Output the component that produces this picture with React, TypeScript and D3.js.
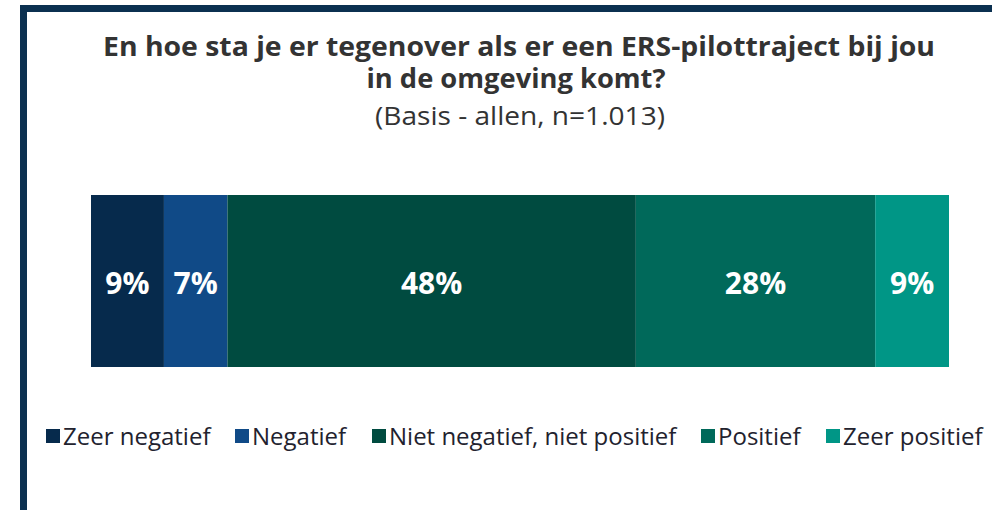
import React from "react";
import * as d3 from "d3";

const categories = ["Zeer negatief", "Negatief", "Niet negatief, niet positief", "Positief", "Zeer positief"];
const values = [8.5, 7.4, 47.6, 27.9, 8.6];
const colors = ["#062a4c", "#104a87", "#004b40", "#00695a", "#009686"];
const titleLines = ["En hoe sta je er tegenover als er een ERS-pilottraject bij jou", "in de omgeving komt?"];
const subtitle = "(Basis - allen, n=1.013)";
const legendX = [46, 235, 372, 701, 826];

export default function App() {
  const W = 992, H = 510;
  const total = d3.sum(values);
  const x = d3.scaleLinear().domain([0, total]).range([91, 949]);
  const stack = d3.cumsum(values);
  const segs = values.map((v, i) => ({ v, i, x0: stack[i] - v, x1: stack[i] }));
  const barTop = 195, barH = 172;
  const font = "'Open Sans', 'Noto Sans', sans-serif";
  return (
    <svg width={W} height={H} style={{ position: "absolute", left: 0, top: 0, background: "#fff" }} fontFamily={font}>
      <rect x={0} y={0} width={W} height={H} fill="#fff" />
      <rect x={20} y={5} width={W} height={7} fill="#0b3050" />
      <rect x={20} y={5} width={7} height={H} fill="#0b3050" />
      <text x={519} y={56} textAnchor="middle" fontSize={26} fontWeight="bold" fill="#333" textLength={832} lengthAdjust="spacingAndGlyphs">{titleLines[0]}</text>
      <text x={516} y={88} textAnchor="middle" fontSize={26} fontWeight="bold" fill="#333" textLength={299} lengthAdjust="spacingAndGlyphs">{titleLines[1]}</text>
      <text x={520} y={125} textAnchor="middle" fontSize={26} fill="#333" textLength={290} lengthAdjust="spacingAndGlyphs">{subtitle}</text>
      {segs.map((s) => (
        <g key={s.i}>
          <rect x={x(s.x0)} y={barTop} width={x(s.x1) - x(s.x0)} height={barH} fill={colors[s.i]} />
          <text x={(x(s.x0) + x(s.x1)) / 2} y={294} textAnchor="middle" fontSize={30} fontWeight="bold" fill="#fff">
            {d3.format(".0f")(Math.round(s.v)) + "%"}
          </text>
        </g>
      ))}
      {categories.map((c, i) => (
        <g key={c}>
          <rect x={legendX[i]} y={429} width={14} height={14} fill={colors[i]} />
          <text x={legendX[i] + 17} y={445} fontSize={24} fill="#22222e">{c}</text>
        </g>
      ))}
    </svg>
  );
}
